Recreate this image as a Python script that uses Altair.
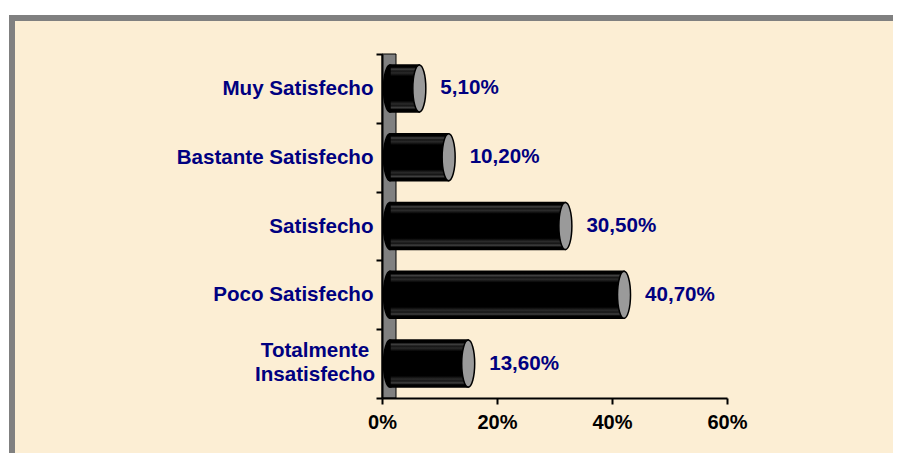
import altair as alt
import pandas as pd

# ---- data ----
categories = ["Muy Satisfecho", "Bastante Satisfecho", "Satisfecho",
              "Poco Satisfecho", "Totalmente Insatisfecho"]
values = [5.1, 10.2, 30.5, 40.7, 13.6]
x_ticks = [0, 20, 40, 60]

df = pd.DataFrame({"cat": categories, "v": values})
df["start"] = 0
one = pd.DataFrame({"z": [0]})

W, H = 345, 344
NAVY = "#000080"
BEIGE = "#FCEED4"
FONT = "Liberation Sans"
LBL = 20.6

# ellipse symbol (cylinder cap)
ry, rx = 23.5, 6.5
a = rx / ry
k = 0.5523
ellipse = (f"M 0 -1 C {k*a:.4f} -1 {a:.4f} {-k:.4f} {a:.4f} 0 "
           f"C {a:.4f} {k:.4f} {k*a:.4f} 1 0 1 "
           f"C {-k*a:.4f} 1 {-a:.4f} {k:.4f} {-a:.4f} 0 "
           f"C {-a:.4f} {-k:.4f} {-k*a:.4f} -1 0 -1 Z")
sym_size = (2 * ry) ** 2

xs = alt.Scale(domain=[0, 60], nice=False, zero=True)
ys = alt.Scale(domain=categories, paddingInner=0, paddingOuter=0)

two_line = "datum.value == 'Totalmente Insatisfecho'"

xaxis = alt.Axis(values=x_ticks, labelExpr="datum.value + '%'", title=None,
                 grid=False, domainColor="black", domainWidth=2,
                 tickColor="black", tickWidth=2, tickSize=6,
                 labelFont=FONT, labelFontSize=20, labelFontWeight="bold",
                 labelColor="black", labelPadding=8, labelFlush=False,
                 labelOverlap=False, zindex=1)
yaxis = alt.Axis(title=None, tickBand="extent", tickSize=6, tickWidth=2,
                 tickColor="black", domainColor="black", domainWidth=2,
                 labelFont=FONT, labelFontSize=LBL, labelFontWeight="bold",
                 labelColor=NAVY, labelLimit=400,
                 labelPadding={"condition": {"test": two_line, "value": 61.5},
                               "value": 3},
                 labelAlign={"condition": {"test": two_line, "value": "center"},
                             "value": "right"},
                 labelOffset={"condition": {"test": two_line, "value": -13},
                              "value": 0},
                 labelExpr="datum.label == 'Totalmente Insatisfecho' ? "
                           "['Totalmente', 'Insatisfecho'] : datum.label",
                 labelLineHeight=24, zindex=1)

def X(f):
    return alt.X(f, scale=xs, axis=xaxis)

Y = alt.Y("cat:N", sort=categories, scale=ys, axis=yaxis)

frame = alt.Chart(one).mark_rect(
    fill=BEIGE, stroke="#808080", strokeWidth=6
).encode(x=alt.value(-370), x2=alt.value(560),
         y=alt.value(-36), y2=alt.value(440))

wall = alt.Chart(one).mark_rect(
    fill="#808080", stroke="black", strokeWidth=1, x2Offset=14
).encode(x=X("z:Q"), x2="z:Q", y=alt.value(0), y2=alt.value(H))

lcap = alt.Chart(df).mark_point(
    shape=ellipse, size=sym_size, filled=True, fill="black", stroke="black",
    strokeWidth=1.5, opacity=1, fillOpacity=1, xOffset=8
).encode(x=X("start:Q"), y=Y)

grad = {
    "gradient": "linear", "x1": 0, "y1": 0, "x2": 0, "y2": 1,
    "stops": [
        {"offset": 0.0, "color": "#000000"},
        {"offset": 0.05, "color": "#000000"},
        {"offset": 0.09, "color": "#404040"},
        {"offset": 0.13, "color": "#151515"},
        {"offset": 0.17, "color": "#2a2a2a"},
        {"offset": 0.24, "color": "#000000"},
        {"offset": 0.76, "color": "#000000"},
        {"offset": 0.83, "color": "#2a2a2a"},
        {"offset": 0.87, "color": "#151515"},
        {"offset": 0.91, "color": "#404040"},
        {"offset": 0.95, "color": "#000000"},
        {"offset": 1.0, "color": "#000000"},
    ],
}

body = alt.Chart(df).mark_bar(
    height=47, fill=grad, stroke="black", strokeWidth=1.5,
    xOffset=8, x2Offset=8
).encode(x=X("v:Q"), x2="start:Q", y=Y)

rcap = alt.Chart(df).mark_point(
    shape=ellipse, size=sym_size, filled=True, fill="#9a9a9a", stroke="black",
    strokeWidth=1.5, opacity=1, fillOpacity=1, xOffset=8
).encode(x=X("v:Q"), y=Y)

labels = alt.Chart(df).transform_calculate(
    lab="replace(format(datum.v, '.2f'), '.', ',') + '%'"
).mark_text(
    align="left", baseline="middle", dx=29, font=FONT, fontSize=LBL,
    fontWeight="bold", color=NAVY
).encode(x=X("v:Q"), y=Y, text="lab:N")

chart = alt.layer(frame, wall, lcap, body, rcap, labels).properties(
    width=W, height=H,
    padding={"left": 374, "top": 46, "right": 166, "bottom": 55},
    autosize=alt.AutoSizeParams(type="none"),
    background="white",
).configure_view(strokeOpacity=0)

chart.save("out.html", embed_options={"renderer": "svg", "actions": False})
